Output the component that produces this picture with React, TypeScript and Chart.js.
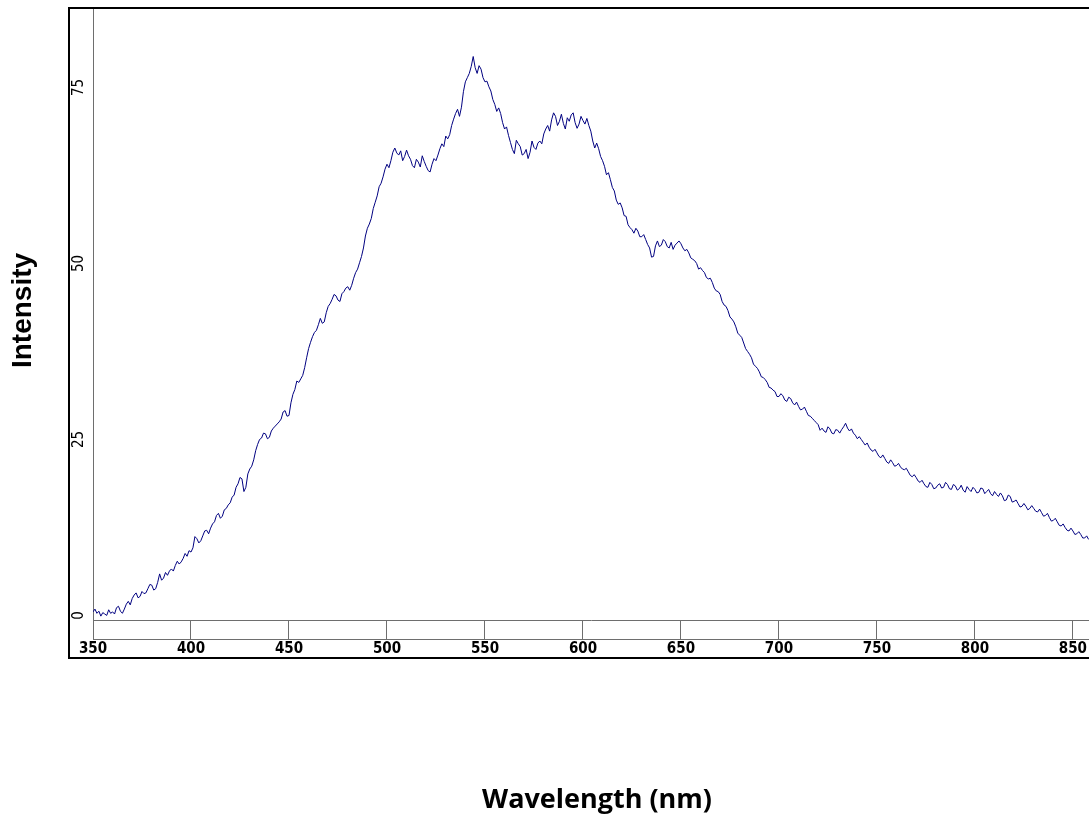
import React, { useEffect, useRef } from "react";
import { Chart, registerables } from "chart.js";

Chart.register(...registerables);

// ---- data ----
const WAVELENGTH_START = 350;
const WAVELENGTH_STEP = 1;
const INTENSITY = [
  // 350-359
  0.5, 0.9, 0.3, 0.6, -0.1, 0.4, 0.2, 0.0, 0.8, 0.3,
  // 360-369
  0.5, 0.2, 1.1, 1.3, 0.6, 0.3, 0.9, 1.6, 2.0, 1.5,
  // 370-379
  2.4, 2.9, 3.2, 2.5, 2.7, 3.4, 3.1, 3.2, 3.8, 4.4,
  // 380-389
  4.3, 3.6, 3.8, 4.7, 5.9, 5.0, 5.3, 6.1, 5.7, 6.3,
  // 390-399
  6.6, 6.3, 7.1, 7.7, 7.3, 7.6, 8.1, 8.8, 8.4, 9.2,
  // 400-409
  9.0, 9.6, 11.2, 10.9, 10.3, 10.6, 11.3, 12.0, 12.1, 11.6,
  // 410-419
  12.4, 13.0, 13.3, 14.2, 14.5, 13.8, 14.1, 15.0, 15.2, 15.7,
  // 420-429
  16.0, 16.8, 17.1, 18.2, 18.7, 19.6, 19.4, 17.6, 18.2, 20.1,
  // 430-439
  20.8, 21.2, 22.1, 23.4, 24.3, 25.0, 25.2, 25.9, 25.8, 25.1,
  // 440-449
  25.3, 26.2, 26.6, 26.9, 27.2, 27.5, 27.9, 28.9, 29.1, 28.3,
  // 450-459
  28.4, 30.2, 31.4, 32.1, 33.3, 33.1, 33.6, 34.1, 35.2, 36.6,
  // 460-469
  37.9, 38.8, 39.6, 40.2, 40.5, 41.3, 42.2, 41.5, 41.7, 43.0,
  // 470-479
  43.9, 44.3, 44.9, 45.6, 45.4, 44.8, 44.6, 45.7, 46.0, 46.5,
  // 480-489
  46.7, 46.2, 46.9, 47.9, 48.7, 49.2, 50.1, 51.0, 52.2, 53.9,
  // 490-499
  55.0, 55.6, 56.4, 57.8, 58.7, 59.6, 60.9, 61.4, 62.3, 63.4,
  // 500-509
  64.1, 63.6, 64.6, 65.8, 66.4, 65.7, 65.4, 66.0, 64.6, 65.2,
  // 510-519
  66.1, 65.3, 64.8, 63.9, 63.6, 64.8, 64.4, 63.7, 65.3, 64.5,
  // 520-529
  63.8, 63.2, 63.0, 64.1, 64.9, 64.6, 65.4, 66.3, 67.0, 66.6,
  // 530-539
  68.1, 67.7, 68.3, 69.6, 70.5, 71.3, 71.9, 70.9, 72.2, 74.4,
  // 540-549
  75.8, 76.4, 77.0, 78.0, 79.4, 77.8, 77.0, 78.1, 77.6, 76.4,
  // 550-559
  75.8, 75.9, 75.1, 74.5, 73.3, 72.6, 71.6, 72.1, 71.3, 70.0,
  // 560-569
  69.1, 69.4, 68.2, 67.2, 66.2, 65.6, 67.5, 67.0, 66.6, 65.4,
  // 570-579
  65.6, 66.2, 64.9, 65.8, 67.4, 66.5, 66.2, 67.1, 67.4, 67.0,
  // 580-589
  68.4, 69.1, 69.6, 68.8, 70.4, 71.4, 70.9, 69.6, 70.2, 71.2,
  // 590-599
  69.9, 69.1, 70.7, 70.2, 71.1, 71.4, 70.0, 69.2, 69.8, 70.9,
  // 600-609
  70.3, 69.8, 70.6, 69.6, 68.8, 67.4, 66.4, 67.1, 66.3, 65.2,
  // 610-619
  64.6, 63.8, 62.6, 62.9, 61.9, 60.8, 60.3, 59.0, 58.4, 58.6,
  // 620-629
  57.9, 56.8, 56.7, 55.5, 55.1, 54.8, 54.3, 55.0, 54.6, 53.8,
  // 630-639
  53.8, 54.1, 53.4, 52.7, 52.2, 50.9, 51.0, 52.5, 53.2, 52.4,
  // 640-649
  52.6, 53.4, 53.1, 52.4, 52.2, 53.0, 52.0, 52.6, 52.9, 53.2,
  // 650-659
  52.8, 52.2, 51.8, 52.0, 51.5, 50.8, 50.6, 50.4, 50.0, 49.2,
  // 660-669
  49.4, 49.0, 48.7, 48.0, 47.8, 47.9, 47.3, 46.5, 46.1, 46.0,
  // 670-679
  45.6, 44.6, 44.1, 43.9, 43.3, 42.4, 42.1, 41.7, 41.0, 40.1,
  // 680-689
  39.8, 39.5, 38.7, 37.9, 37.5, 37.1, 36.6, 35.7, 35.4, 35.1,
  // 690-699
  34.6, 33.9, 33.8, 33.5, 33.1, 32.4, 32.3, 32.0, 31.8, 31.1,
  // 700-709
  31.1, 31.5, 31.2, 30.6, 30.4, 31.0, 30.8, 30.2, 29.9, 30.3,
  // 710-719
  29.7, 29.2, 29.3, 29.6, 29.0, 28.4, 28.3, 28.0, 27.7, 27.4,
  // 720-729
  27.1, 26.3, 26.6, 26.2, 26.0, 26.8, 26.5, 25.9, 25.8, 26.4,
  // 730-739
  26.3, 25.9, 26.4, 26.8, 27.3, 26.6, 26.2, 26.5, 25.9, 25.6,
  // 740-749
  25.1, 25.4, 25.0, 24.6, 24.2, 24.5, 23.9, 23.5, 23.3, 23.6,
  // 750-759
  23.1, 22.6, 22.4, 22.8, 22.3, 21.8, 21.6, 22.1, 21.7, 21.2,
  // 760-769
  21.3, 21.6, 21.1, 20.8, 20.7, 20.9, 20.4, 19.9, 19.7, 20.0,
  // 770-779
  19.6, 19.1, 18.9, 19.2, 18.7, 18.3, 18.2, 18.9, 18.6, 18.0,
  // 780-789
  18.1, 18.5, 18.7, 18.1, 18.2, 18.9, 18.6, 18.0, 17.9, 18.6,
  // 790-799
  18.4, 17.8, 18.0, 18.5, 17.8, 17.5, 18.3, 17.9, 17.6, 18.2,
  // 800-809
  17.9, 17.4, 17.5, 18.1, 18.0, 17.3, 17.6, 17.9, 17.3, 17.0,
  // 810-819
  17.6, 17.2, 16.9, 17.4, 17.0, 16.3, 16.4, 17.1, 16.9, 16.1,
  // 820-829
  16.2, 16.4, 15.9, 15.4, 15.5, 15.9, 15.5, 15.0, 15.2, 15.6,
  // 830-839
  15.2, 14.8, 14.7, 15.1, 14.6, 14.1, 14.2, 14.5, 13.9, 13.4,
  // 840-849
  13.5, 13.8, 13.3, 12.8, 12.7, 13.0, 12.5, 12.1, 12.0, 12.4,
  // 850-858
  12.0, 11.5, 11.6, 11.9, 11.5, 11.0, 11.0, 11.3, 10.8,
];
const X_TICKS = [350, 400, 450, 500, 550, 600, 650, 700, 750, 800, 850];
const Y_TICKS = [0, 25, 50, 75];
const X_RANGE = [350, 858.2];
const Y_RANGE = [-0.65, 86.15];
const X_TITLE = "Wavelength (nm)";
const Y_TITLE = "Intensity";

const LINE_COLOR = "#000080";
const AXIS_COLOR = "#6e6e6e";
const TICK_LEN = 19;

const framePlugin = {
  id: "framePlugin",
  afterDraw(chart: any) {
    const { ctx, chartArea } = chart;
    const yScale = chart.scales.y;
    const { left, right, top, bottom } = chartArea;
    ctx.save();
    // lower line of the x-axis band
    ctx.strokeStyle = AXIS_COLOR;
    ctx.lineWidth = 1;
    ctx.beginPath();
    ctx.moveTo(left, bottom + TICK_LEN + 0.5);
    ctx.lineTo(right, bottom + TICK_LEN + 0.5);
    ctx.stroke();
    // outer frame
    ctx.strokeStyle = "#000";
    ctx.lineWidth = 2;
    ctx.strokeRect(left - 24, top - 1, right - left + 80, bottom - top + 39);
    // y tick labels (rotated)
    ctx.fillStyle = "#000";
    ctx.font = '15px "DejaVu Sans Condensed"';
    ctx.textAlign = "center";
    ctx.textBaseline = "middle";
    yScale.ticks.forEach((t: any) => {
      const py = yScale.getPixelForValue(t.value);
      ctx.save();
      ctx.translate(left - 13.5, py);
      ctx.rotate(-Math.PI / 2);
      ctx.fillText(String(t.value), 0, 0);
      ctx.restore();
    });
    // axis titles
    ctx.font = 'bold 28px "Liberation Sans"';
    ctx.save();
    ctx.translate(23, (top + bottom) / 2 - 4);
    ctx.rotate(-Math.PI / 2);
    ctx.textBaseline = "middle";
    ctx.fillText(Y_TITLE, 0, 0);
    ctx.restore();
    ctx.font = 'bold 27px "Open Sans"';
    ctx.textBaseline = "alphabetic";
    ctx.fillText(X_TITLE, (left + right) / 2 + 6, 808);
    ctx.restore();
  },
};

export default function App() {
  const canvasRef = useRef<HTMLCanvasElement | null>(null);

  useEffect(() => {
    const canvas = canvasRef.current;
    if (!canvas) return;
    const points = INTENSITY.map((v, i) => ({
      x: WAVELENGTH_START + i * WAVELENGTH_STEP,
      y: v,
    }));
    const chart = new Chart(canvas, {
      type: "line",
      data: {
        datasets: [
          {
            data: points,
            borderColor: LINE_COLOR,
            borderWidth: 1,
            pointRadius: 0,
            tension: 0,
            fill: false,
          },
        ],
      },
      options: {
        animation: false,
        responsive: false,
        maintainAspectRatio: false,
        layout: { padding: { top: 9, right: 0, bottom: 0, left: 0 } },
        plugins: {
          legend: { display: false },
          tooltip: { enabled: false },
          title: { display: false },
        },
        scales: {
          x: {
            type: "linear",
            min: X_RANGE[0],
            max: X_RANGE[1],
            afterBuildTicks: (scale: any) => {
              scale.ticks = X_TICKS.map((v) => ({ value: v }));
            },
            afterFit: (scale: any) => {
              scale.height = 197;
            },
            grid: {
              display: true,
              drawOnChartArea: false,
              drawTicks: true,
              tickLength: TICK_LEN,
              color: AXIS_COLOR,
              lineWidth: 1,
            },
            border: { display: true, color: AXIS_COLOR, width: 1 },
            ticks: {
              autoSkip: false,
              maxRotation: 0,
              minRotation: 0,
              padding: 1,
              color: "#000",
              font: { family: "DejaVu Sans Condensed", size: 15, weight: "bold" },
              callback: (v: any) => String(v),
            },
          },
          y: {
            type: "linear",
            position: "left",
            min: Y_RANGE[0],
            max: Y_RANGE[1],
            afterBuildTicks: (scale: any) => {
              scale.ticks = Y_TICKS.map((v) => ({ value: v }));
            },
            afterFit: (scale: any) => {
              scale.width = 93;
            },
            grid: { display: false },
            border: { display: true, color: AXIS_COLOR, width: 1 },
            ticks: { display: false },
          },
        },
      },
      plugins: [framePlugin],
    } as any);
    return () => chart.destroy();
  }, []);

  return (
    <div style={{ position: "fixed", left: 0, top: 0, width: 1089, height: 817, background: "#fff" }}>
      <canvas ref={canvasRef} width={1089} height={817} style={{ width: 1089, height: 817, display: "block" }} />
    </div>
  );
}
